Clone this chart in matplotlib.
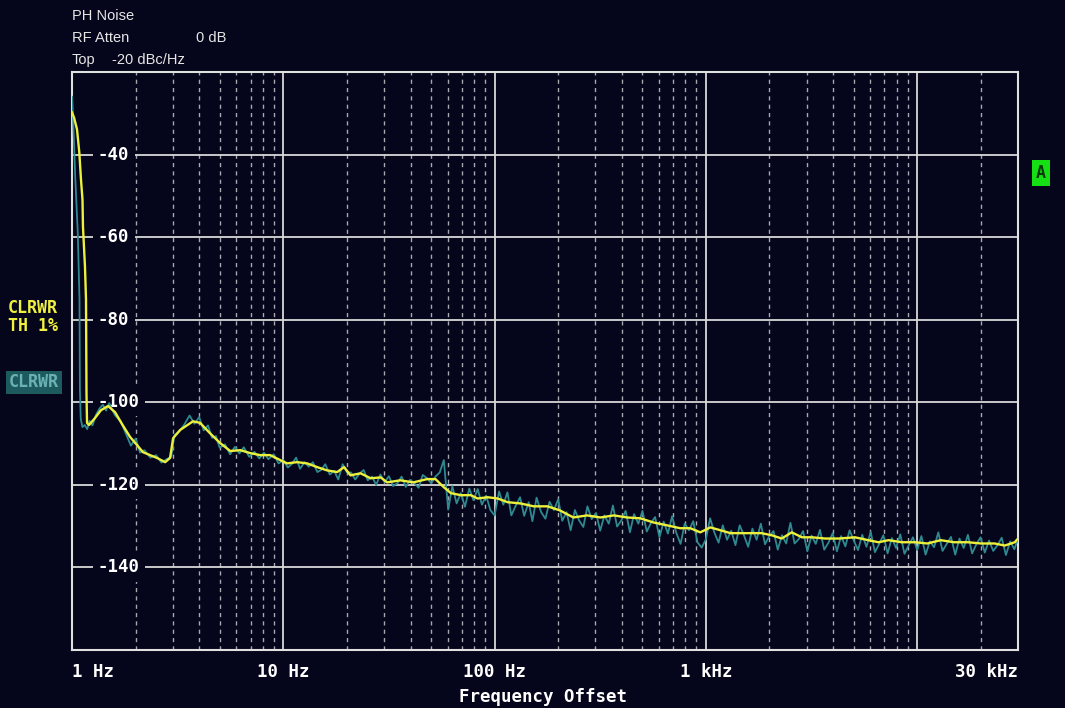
import matplotlib
matplotlib.use('Agg')
import matplotlib.pyplot as plt
import matplotlib.transforms as mtransforms
from matplotlib.ticker import FixedLocator, NullFormatter

# ------------------------------------------------------------------------------
# trace data (frequency in Hz, level in dBc/Hz)
yellow_freq = [1.0, 1.022, 1.056, 1.083, 1.103, 1.121, 1.127, 1.152, 1.165, 1.171,
               1.178, 1.204, 1.285, 1.372, 1.481, 1.599, 1.726, 1.883, 2.17, 2.53,
               2.76, 2.91, 3.01, 3.25, 3.74, 4.04, 4.50, 5.03, 5.61, 6.26,
               6.97, 7.78, 8.67, 9.67, 10.42, 11.63, 12.97, 14.46, 16.13, 17.99,
               19.4, 20.8, 23.2, 25.9, 28.9, 31.0, 35.8, 41.2, 48.0, 52.5,
               57.3, 62.1, 69.2, 77.2, 83.1, 92.7, 103.4, 115.3, 132.7, 153,
               178, 204, 236, 274, 317, 367, 424, 489, 564, 654,
               755, 843, 941, 1050, 1172, 1308, 1581, 1834, 2047, 2285,
               2550, 2846, 3176, 3674, 4250, 5076, 5870, 6560, 7320, 8460,
               9790, 11170, 12930, 14950, 17380, 20100, 23260, 25960, 28970, 30000]
yellow_level = [-29.8, -31.0, -33.9, -39.5, -46.1, -50.9, -57.5, -67.2, -75.2, -97.8,
                -105.0, -105.5, -103.8, -101.9, -100.9, -102.4, -105.3, -108.4, -112.1, -113.5,
                -114.5, -113.5, -108.7, -106.7, -104.6, -105.0, -107.5, -109.9, -111.8, -111.6,
                -112.3, -112.8, -112.8, -114.0, -114.8, -114.5, -114.8, -115.7, -116.5, -116.9,
                -115.7, -117.7, -117.2, -118.4, -118.2, -119.4, -118.9, -119.4, -118.6, -118.6,
                -120.5, -122.0, -122.5, -122.5, -123.3, -123.0, -123.3, -124.2, -124.5, -125.2,
                -125.2, -126.2, -127.9, -127.4, -127.9, -127.4, -127.9, -128.1, -129.1, -129.8,
                -130.5, -130.5, -131.5, -130.3, -131.0, -131.7, -131.7, -131.7, -132.2, -133.0,
                -131.5, -132.7, -132.7, -133.0, -133.0, -132.7, -133.4, -133.9, -133.4, -133.9,
                -133.9, -134.2, -133.4, -133.9, -133.9, -134.2, -134.2, -134.7, -133.9, -133.0]

teal_freq = [1.0, 1.01, 1.02, 1.035, 1.05, 1.065, 1.075, 1.085, 1.09, 1.10,
             1.12, 1.15, 1.18, 1.21, 1.25, 1.3, 1.35, 1.4, 1.45, 1.5,
             1.55, 1.6, 1.7, 1.8, 1.9, 2.0, 2.1, 2.2, 2.35, 2.5,
             2.65, 2.8, 2.95, 3.05, 3.2, 3.4, 3.6, 3.8, 4.0, 4.2,
             4.4, 4.6, 4.8, 5.0, 5.3, 5.6, 5.9, 6.2, 6.5, 6.9,
             7.3, 7.7, 8.1, 8.5, 9.0, 9.5,
             10.0, 10.5, 11.0, 11.5, 12.0, 12.6, 13.2, 13.8, 14.5, 15.1,
             15.8, 16.6, 17.4, 18.2, 19.1, 20.0, 20.9, 21.9, 22.9, 24.0,
             25.1, 26.3, 27.5, 28.8, 30.2, 31.6, 33.1, 34.7, 36.3, 38.0,
             39.8, 41.7, 43.7, 45.7, 47.9, 50.1, 52.5, 55.0, 57.5, 60.3,
             63.1, 66.1, 69.2, 72.4, 75.9, 79.4, 83.2, 87.1, 91.2, 95.5,
             100, 105, 110, 115, 120, 126, 132, 138, 145, 151,
             158, 166, 174, 182, 191, 200, 209, 219, 229, 240,
             251, 263, 275, 288, 302, 316, 331, 347, 363, 380,
             398, 417, 437, 457, 479, 501, 525, 550, 575, 603,
             631, 661, 692, 724, 759, 794, 832, 871, 912, 955,
             1000, 1047, 1096, 1148, 1202, 1259, 1318, 1380, 1445, 1514,
             1585, 1660, 1738, 1820, 1905, 1995, 2089, 2188, 2291, 2399,
             2512, 2630, 2754, 2884, 3020, 3162, 3311, 3467, 3631, 3802,
             3981, 4169, 4365, 4571, 4786, 5012, 5248, 5495, 5754, 6026,
             6310, 6607, 6918, 7244, 7586, 7943, 8318, 8710, 9120, 9550,
             10000, 10470, 10960, 11480, 12020, 12590, 13180, 13800, 14450, 15140,
             15850, 16600, 17380, 18200, 19050, 19950, 20890, 21880, 22910, 23990,
             25120, 26300, 27540, 28840, 30000]
teal_level = [-26.0, -30.0, -36.0, -45.0, -52.0, -59.0, -67.0, -75.0, -97.0, -104.0,
              -106.0, -105.5, -106.5, -104.5, -105.6, -103.0, -101.5, -100.6, -102.0, -100.2,
              -101.8, -103.2, -104.6, -107.6, -110.5, -108.8, -112.2, -111.6, -113.4, -112.8,
              -114.6, -113.8, -113.2, -108.0, -107.2, -105.4, -103.2, -105.2, -103.6, -106.8,
              -105.6, -108.6, -108.2, -111.0, -110.2, -112.6, -110.8, -112.4, -110.9, -113.2,
              -112.0, -113.6, -112.2, -113.8, -112.6, -114.8,
              -114.0, -115.8, -114.9, -113.4, -116.1, -114.5, -115.6, -114.5, -116.9, -116.4,
              -115.0, -117.5, -116.6, -118.7, -115.0, -117.0, -117.0, -118.7, -117.3, -116.4,
              -118.9, -118.0, -120.0, -117.5, -119.3, -117.9, -120.3, -119.6, -118.0, -120.5,
              -118.8, -119.6, -120.7, -117.6, -118.4, -119.6, -118.0, -117.0, -114.0, -126.0,
              -120.3, -124.5, -122.0, -125.3, -120.9, -123.7, -121.0, -124.8, -122.6, -126.1,
              -127.4, -121.6, -124.8, -121.8, -127.4, -125.0, -123.0, -127.5, -124.2, -128.8,
              -123.1, -126.6, -128.2, -124.1, -126.1, -123.5, -128.7, -126.6, -131.0, -126.1,
              -128.6, -130.2, -125.2, -128.3, -126.8, -131.1, -127.4, -129.4, -125.0, -130.1,
              -128.6, -126.3, -131.5, -127.1, -129.4, -126.3, -131.3, -129.2, -127.8, -132.7,
              -128.9, -131.8, -127.6, -131.6, -134.3, -129.4, -131.0, -128.8, -133.9, -135.2,
              -133.2, -128.1, -131.5, -134.0, -129.8, -133.3, -131.1, -134.6, -129.8, -132.2,
              -135.0, -130.6, -133.3, -129.4, -134.4, -132.4, -131.2, -135.7, -132.2, -134.2,
              -129.2, -134.2, -133.1, -131.2, -136.1, -132.3, -134.3, -130.9, -135.7, -134.0,
              -131.7, -136.1, -132.4, -134.9, -131.0, -133.5, -135.8, -132.1, -135.0, -131.4,
              -136.3, -134.3, -132.2, -136.6, -132.9, -135.3, -132.0, -136.7, -134.6, -132.7,
              -135.8, -132.4, -136.9, -133.7, -135.1, -131.5, -136.0, -134.3, -132.6, -136.9,
              -133.0, -135.3, -132.1, -136.6, -134.4, -132.7, -136.4, -133.5, -136.0, -134.6,
              -132.8, -137.0, -133.7, -135.6, -133.0]

y_ticks = [-40, -60, -80, -100, -120, -140]
x_labels = [(1, '1 Hz', 'left'), (10, '10 Hz', 'center'), (100, '100 Hz', 'center'),
            (1000, '1 kHz', 'center'), (30000, '30 kHz', 'right')]

# ==============================================================================
bg = '#05051b'
mono = 'DejaVu Sans Mono'

fig = plt.figure(figsize=(10.65, 7.08), dpi=100, facecolor=bg)
ax = fig.add_axes([72/1065, 1 - 650/708, 946/1065, 578/708], facecolor=bg)

ax.set_xscale('log')
ax.set_xlim(1, 30000)
ax.set_ylim(-160, -20)

# grid: solid decades, dashed 2..9 lines, solid level lines
ax.xaxis.set_major_locator(FixedLocator([1, 10, 100, 1000, 10000]))
minor = [m * d for d in [1, 10, 100, 1000, 10000] for m in range(2, 10) if m * d < 30000]
ax.xaxis.set_minor_locator(FixedLocator(minor))
ax.xaxis.set_minor_formatter(NullFormatter())
ax.set_yticks(y_ticks)
ax.tick_params(which='both', length=0, labelbottom=False, labelleft=False)
ax.grid(which='major', color='#d8d8d8', linewidth=1.3, zorder=1)
ax.grid(which='minor', axis='x', color='#a8a8b0', linewidth=1.0,
        linestyle=(0, (3, 3)), zorder=1)
ax.set_axisbelow(True)
for s in ax.spines.values():
    s.set_color('#e0e0e0')
    s.set_linewidth(1.5)

# ------------------------------------------------------------------------------
# traces
ax.plot(teal_freq, teal_level, color='#2f8a90', linewidth=1.3, zorder=3)
ax.plot(yellow_freq, yellow_level, color='#ecf03a', linewidth=1.7, zorder=4)

# level labels drawn inside the graticule (under the traces)
for v in y_ticks:
    ax.text((98 - 72)/946, v, str(v), transform=ax.get_yaxis_transform(),
            ha='left', va='center', color='white', fontsize=12.5,
            fontweight='bold', family=mono, zorder=2,
            bbox=dict(boxstyle='square,pad=0.3', fc=bg, ec='none'))

# frequency labels under the graticule
trans = mtransforms.blended_transform_factory(ax.transData, fig.transFigure)
for f, lab, ha in x_labels:
    ax.text(f, 1 - 672/708, lab, transform=trans, ha=ha, va='center',
            color='white', fontsize=12.5, fontweight='bold', family=mono)
fig.text(543/1065, 1 - 697/708, 'Frequency Offset', ha='center', va='center',
         color='white', fontsize=12.5, fontweight='bold', family=mono)

# header
hdr = dict(color='#e6e6e6', fontsize=10.5, family='Liberation Sans', va='center')
fig.text(72/1065, 1 - 16/708, 'PH Noise', **hdr)
fig.text(72/1065, 1 - 38/708, 'RF Atten', **hdr)
fig.text(196/1065, 1 - 38/708, '0 dB', **hdr)
fig.text(72/1065, 1 - 60/708, 'Top', **hdr)
fig.text(112/1065, 1 - 60/708, '-20 dBc/Hz', **hdr)

# trace annotations at the left margin
fig.text(8/1065, 1 - 308/708, 'CLRWR', color='#f0f040', fontsize=12,
         fontweight='bold', family=mono, va='center')
fig.text(8/1065, 1 - 326/708, 'TH 1%', color='#f0f040', fontsize=12,
         fontweight='bold', family=mono, va='center')
fig.text(9/1065, 1 - 382/708, 'CLRWR', color='#6ab2b4', fontsize=12,
         fontweight='bold', family=mono, va='center',
         bbox=dict(boxstyle='square,pad=0.15', fc='#1d5a5e', ec='none'))

# trace indicator
fig.text(1041/1065, 1 - 173/708, 'A', color='#0a3a0a', fontsize=12,
         fontweight='bold', family=mono, ha='center', va='center',
         bbox=dict(boxstyle='square,pad=0.25', fc='#14e014', ec='none'))

fig.savefig('out.png', dpi=100, facecolor=bg)
